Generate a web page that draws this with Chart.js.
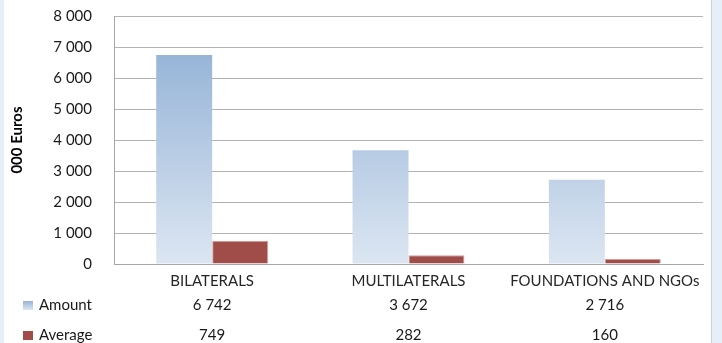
<!DOCTYPE html>
<html lang="en">
<head>
    <meta charset="UTF-8">
    <title>Funding by partner type</title>
    <script src="https://cdn.jsdelivr.net/npm/chart.js"></script>
    <style>
        html, body { margin: 0; padding: 0; background: #e6eef8; }
        #wrap { position: absolute; left: 0; top: 0; width: 722px; height: 343px; }
    </style>
</head>
<body>
    <div id="wrap">
        <canvas id="fundingChart" width="722" height="343"></canvas>
    </div>
    <script>
        // data
        const categories = ['BILATERALS', 'MULTILATERALS', 'FOUNDATIONS AND NGOs'];
        const amountValues = [6742, 3672, 2716];
        const averageValues = [749, 282, 160];
        const seriesNames = ['Amount', 'Average'];

        const FONT = 'Lato, "Open Sans", sans-serif';

        function fmt(n) {
            return String(n).replace(/\B(?=(\d{3})+(?!\d))/g, ' ');
        }

        // white panel with the light blue frame around it
        const panelBg = {
            id: 'panelBg',
            beforeDraw(chart) {
                const c = chart.ctx;
                c.save();
                c.fillStyle = '#e6eef8';
                c.fillRect(0, 0, chart.width, chart.height);
                c.fillStyle = '#ffffff';
                c.fillRect(4, 0, 707, chart.height);
                c.fillStyle = '#c9d1dc';
                c.fillRect(711, 0, 1, chart.height);
                c.restore();
            }
        };

        // gradient for the Amount bars, light at the base
        function amountFill(context) {
            const chart = context.chart;
            const area = chart.chartArea;
            if (!area) return '#b8cce4';
            const y = chart.scales.y;
            const g = chart.ctx.createLinearGradient(0, y.getPixelForValue(7000), 0, y.getPixelForValue(0));
            g.addColorStop(0, '#95b3d7');
            g.addColorStop(1, '#dce6f2');
            return g;
        }

        // data table under the axis
        const dataTable = {
            id: 'dataTable',
            afterDraw(chart) {
                const c = chart.ctx;
                const x = chart.scales.x;
                const rows = [
                    { name: seriesNames[0], values: amountValues, y: 305, swatch: 'amount' },
                    { name: seriesNames[1], values: averageValues, y: 335, swatch: 'average' }
                ];
                c.save();
                c.font = '15px ' + FONT;
                c.textBaseline = 'middle';
                rows.forEach(row => {
                    if (row.swatch === 'amount') {
                        const g = c.createLinearGradient(0, row.y - 4, 0, row.y + 5);
                        g.addColorStop(0, '#95b3d7');
                        g.addColorStop(1, '#dce6f2');
                        c.fillStyle = g;
                    } else {
                        c.fillStyle = '#a04d4a';
                    }
                    c.fillRect(23, row.y - 4, 10, 9);
                    c.fillStyle = '#1a1a1a';
                    c.textAlign = 'left';
                    c.fillText(row.name, 39, row.y);
                    c.textAlign = 'center';
                    row.values.forEach((v, i) => {
                        c.fillText(fmt(v), x.getPixelForValue(i), row.y);
                    });
                });
                c.restore();
            }
        };

        const ctx = document.getElementById('fundingChart').getContext('2d');
        new Chart(ctx, {
            type: 'bar',
            data: {
                labels: categories,
                datasets: [{
                    label: seriesNames[0],
                    data: amountValues,
                    backgroundColor: amountFill,
                    borderWidth: 0
                }, {
                    label: seriesNames[1],
                    data: averageValues,
                    backgroundColor: '#a04d4a',
                    borderColor: '#d49c9a',
                    borderWidth: 1
                }]
            },
            options: {
                responsive: false,
                animation: false,
                layout: { padding: { left: 4, right: 19, top: 16, bottom: 0 } },
                plugins: {
                    legend: { display: false },
                    tooltip: { enabled: false }
                },
                datasets: {
                    bar: { categoryPercentage: 0.57, barPercentage: 1 }
                },
                scales: {
                    x: {
                        grid: { display: false, drawTicks: false },
                        border: { color: '#a6a6a6', width: 1 },
                        ticks: {
                            color: '#262626',
                            font: { family: FONT, size: 15 },
                            padding: 8,
                            maxRotation: 0,
                            autoSkip: false
                        },
                        afterFit(scale) { scale.height = 79; }
                    },
                    y: {
                        min: 0,
                        max: 8000,
                        grid: { color: '#b3b3b3', drawTicks: false },
                        border: { color: '#a6a6a6', width: 1 },
                        ticks: {
                            stepSize: 1000,
                            color: '#1a1a1a',
                            font: { family: FONT, size: 15 },
                            padding: 22,
                            callback: v => fmt(v)
                        },
                        title: {
                            display: true,
                            text: '000 Euros',
                            color: '#000000',
                            font: { family: FONT, size: 15, weight: 'bold' },
                            padding: { top: 4, bottom: 0 }
                        },
                        afterFit(scale) {
                            scale.width = 110;
                            scale.paddingTop = 0;
                            scale.paddingBottom = 0;
                        }
                    }
                }
            },
            plugins: [panelBg, dataTable]
        });
    </script>
</body>
</html>
